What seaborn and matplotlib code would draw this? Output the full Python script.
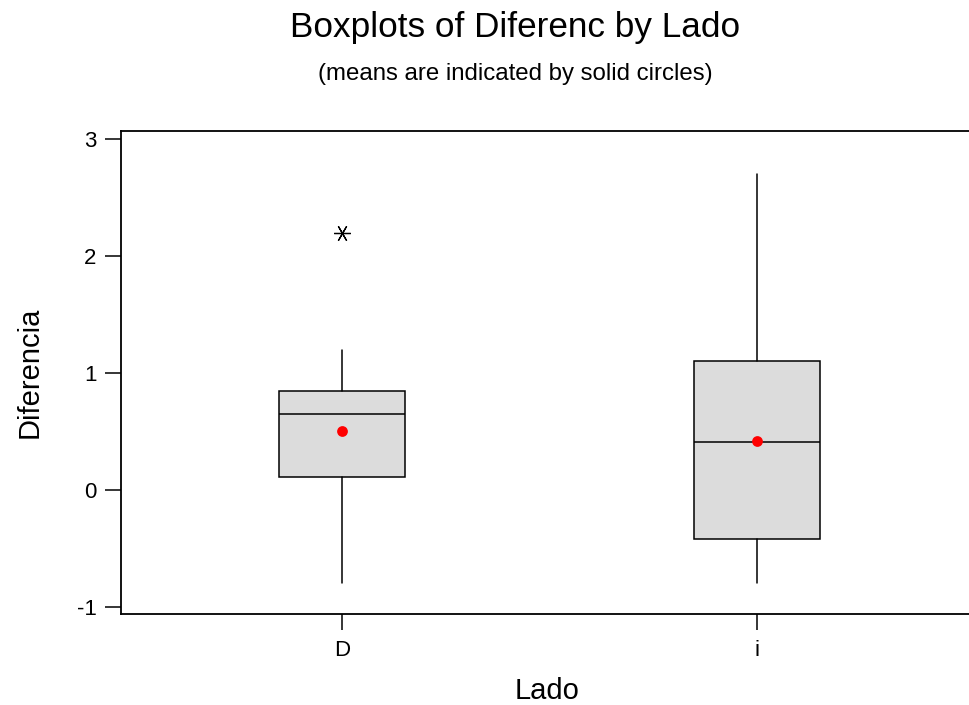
import matplotlib
matplotlib.use("Agg")
import matplotlib.pyplot as plt
import seaborn as sns
import numpy as np

# ---- data ----
categories = ["D", "i"]
q1 = [0.11, -0.42]
medians = [0.65, 0.41]
q3 = [0.85, 1.10]
whisker_low = [-0.80, -0.80]
whisker_high = [1.20, 2.70]
means = [0.50, 0.42]
outliers = [[2.2], []]
yticks = [-1, 0, 1, 2, 3]

sns.set_theme(style="white")
plt.rcParams["font.family"] = ["Liberation Sans", "DejaVu Sans"]

fig = plt.figure(figsize=(9.70, 7.05), dpi=100)
W, H = 970, 705
ax = fig.add_axes([121 / W, 1 - 614 / H, (W - 121) / W, (614 - 131) / H])

stats = []
for k in range(len(categories)):
    stats.append(dict(label=categories[k], med=medians[k], q1=q1[k], q3=q3[k],
                      whislo=whisker_low[k], whishi=whisker_high[k],
                      mean=means[k], fliers=outliers[k]))

ax.bxp(stats, positions=range(len(categories)), widths=0.304,
       showcaps=False, showmeans=False, patch_artist=True,
       boxprops=dict(facecolor="#DCDCDC", edgecolor="black", linewidth=1.1),
       medianprops=dict(color="black", linewidth=1.1),
       whiskerprops=dict(color="black", linewidth=1.1),
       flierprops=dict(marker=(6, 2, 90), markersize=12, markeredgecolor="black",
                       markeredgewidth=0.9, linestyle="none"))

sns.scatterplot(x=list(range(len(categories))), y=means, color="red", s=60,
                linewidth=0, ax=ax, zorder=5)

ax.set_xlim(-0.5325, 1.513)
ax.set_ylim(-1.062, 3.071)
ax.set_xticks(range(len(categories)))
ax.set_xticklabels(categories)
ax.set_yticks(yticks)
ax.set_yticklabels([str(t) for t in yticks])
ax.tick_params(axis="both", which="major", direction="out", length=11.5, width=1.1,
               color="black", labelsize=16, labelcolor="black", left=True, bottom=True)
ax.tick_params(axis="y", pad=6)
ax.tick_params(axis="x", pad=7)
ax.set_xlabel("")
ax.set_ylabel("")
for side in ["left", "bottom", "top"]:
    ax.spines[side].set_visible(True)
    ax.spines[side].set_color("black")
    ax.spines[side].set_linewidth(1.3)
ax.spines["right"].set_visible(False)
ax.grid(False)

fig.text(515 / W, 1 - 37 / H, "Boxplots of Diferenc by Lado", ha="center",
         va="baseline", fontsize=25.3, color="black")
fig.text(515 / W, 1 - 80 / H, "(means are indicated by solid circles)", ha="center",
         va="baseline", fontsize=17.3, color="black")
fig.text(30 / W, 1 - 372 / H, "Diferencia", rotation=90, ha="center", va="center",
         fontsize=21, color="black")
fig.text(547 / W, 1 - 699 / H, "Lado", ha="center", va="baseline", fontsize=21,
         color="black")

fig.savefig("out.png", dpi=100)
